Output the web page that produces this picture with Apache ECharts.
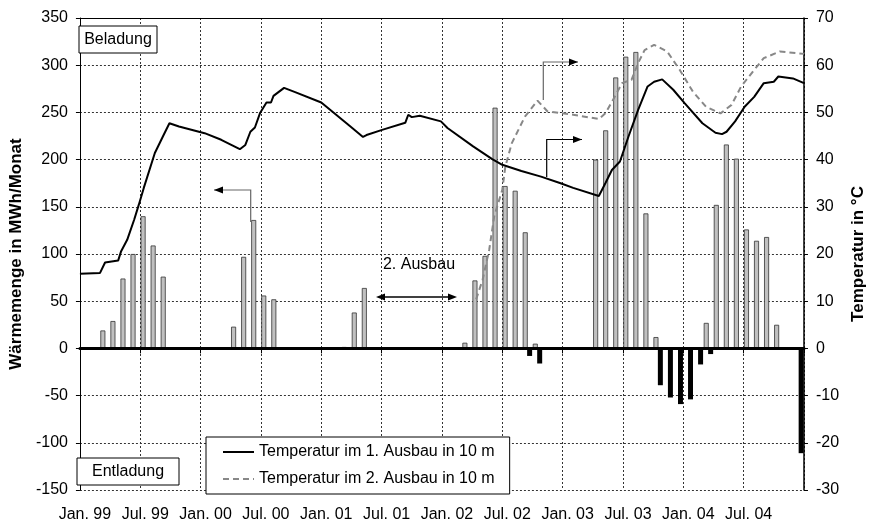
<!DOCTYPE html>
<html>
<head>
<meta charset="utf-8">
<script src="https://cdn.jsdelivr.net/npm/echarts@6/dist/echarts.min.js"></script>
<style>
  html, body { margin: 0; padding: 0; background: #fff; }
  #chart { width: 875px; height: 524px; }
</style>
</head>
<body>
<div id="chart"></div>
<script>
// Months Jan. 99 ... Dec. 04
const monthNames = ['Jan', 'Feb', 'Mär', 'Apr', 'Mai', 'Jun', 'Jul', 'Aug', 'Sep', 'Okt', 'Nov', 'Dez'];
const years = ['99', '00', '01', '02', '03', '04'];
const months = years.flatMap(y => monthNames.map(m => m + '. ' + y));

// Half-year tick labels
const tickLabels = ['Jan. 99', 'Jul. 99', 'Jan. 00', 'Jul. 00', 'Jan. 01', 'Jul. 01',
                    'Jan. 02', 'Jul. 02', 'Jan. 03', 'Jul. 03', 'Jan. 04', 'Jul. 04'];

// Monthly charged heat (MWh/Monat), one row per year
const beladung = [
  null, null, 19, 29, 74, 100, 140, 109, 76, null, null, null,
  null, null, null, 23, 97, 136, 56, 52, null, null, null, null,
  null, null, 1.5, 38, 64, null, null, null, null, null, null, null,
  null, null, 6, 72, 98, 255, 172, 167, 123, 5, null, null,
  null, null, null, 200, 231, 287, 309, 314, 143, 12, null, null,
  null, null, 27, 152, 216, 201, 126, 114, 118, 25, null, null
];

// Monthly discharged heat (MWh/Monat)
const entladung = [
  null, null, null, null, null, null, null, null, null, null, null, null,
  null, null, null, null, null, null, null, null, null, null, null, null,
  null, null, null, null, null, null, null, null, null, null, null, null,
  null, null, null, null, null, null, null, null, -8, -16, null, null,
  null, null, null, null, null, null, null, null, null, -39, -52, -59,
  -54, -17, -6, null, null, null, null, null, null, null, null, -111
];

// Temperature, 1st stage, 10 m depth (time in months since Jan. 99)
const temp1Month = [0, 2.0, 2.5, 3.8, 4.1, 4.7, 5.4, 5.85, 6.35, 7.45,
  8.25, 8.9, 9.85, 12.4, 14.05, 15.9, 16.45, 16.95, 17.4, 17.9,
  18.55, 19.0, 19.25, 20.3, 21.4, 24.0, 26.9, 28.15, 28.5, 30.05,
  32.35, 32.65, 33.0, 33.8, 35.9, 36.55, 39.1, 41.0, 42.0, 43.9,
  45.85, 47.8, 49.05, 51.6, 52.25, 52.9, 53.7, 54.55, 55.5, 56.45,
  57.1, 57.9, 59.0, 60.15, 61.9, 63.2, 63.85, 64.3, 65.15, 66.1,
  67.05, 68.0, 69.0, 69.45, 70.9, 72];
const temp1Value = [15.8, 16.0, 18.2, 18.6, 20.6, 23.0, 27.3, 30.4, 34.0, 41.4,
  44.9, 47.7, 47.0, 45.6, 44.2, 42.2, 43.1, 45.9, 46.8, 49.8,
  52.1, 52.1, 53.5, 55.2, 54.3, 52.1, 47.0, 44.8, 45.2, 46.3,
  47.8, 49.5, 49.0, 49.3, 48.1, 46.7, 42.8, 40.1, 38.9, 37.6,
  36.4, 35.0, 34.0, 32.3, 35.0, 37.8, 39.6, 44.9, 50.5, 55.5,
  56.5, 57.0, 54.8, 51.9, 47.7, 45.7, 45.4, 45.9, 48.1, 51.2,
  53.3, 56.2, 56.5, 57.6, 57.2, 56.2];

// Temperature, 2nd stage, 10 m depth
const temp2Month = [39.4, 40.05, 40.7, 41.2, 42.0, 42.3, 42.95, 44.25, 45.5, 46.5,
  49.05, 51.6, 52.25, 53.1, 53.9, 54.85, 55.5, 56.15, 57.1, 58.4,
  59.65, 60.95, 62.25, 63.7, 64.8, 65.75, 67.05, 68.0, 69.6, 71.55, 72];
const temp2Value = [10.4, 14.6, 20.9, 28.0, 33.6, 38.5, 43.5, 49.1, 52.5, 50.2,
  49.5, 48.6, 49.8, 53.0, 56.2, 56.9, 60.4, 63.2, 64.3, 62.9,
  59.0, 54.4, 51.2, 49.8, 51.6, 55.5, 59.0, 61.5, 62.9, 62.5, 62.4];

const FONT = '"Liberation Sans", Arial, sans-serif';
const gridDash = { color: '#333', type: [2, 2], width: 1 };

const zip = (xs, ys) => xs.map((x, i) => [x, ys[i]]);

// Arrow helpers for the annotations
function elbowArrow(points, color, headColor, dir) {
  const tip = points[points.length - 1];
  const s = dir === 'left' ? 1 : -1;
  return [
    { type: 'polyline', shape: { points: points }, style: { stroke: color, lineWidth: 1.2, fill: null }, z: 20 },
    { type: 'polygon', shape: { points: [tip, [tip[0] + s * 9, tip[1] - 3.5], [tip[0] + s * 9, tip[1] + 3.5]] },
      style: { fill: headColor }, z: 20 }
  ];
}

function labelBox(x, y, w, h, text) {
  return [
    { type: 'rect', shape: { x: x, y: y, width: w, height: h }, style: { fill: '#fff', stroke: '#000', lineWidth: 1 }, z: 20 },
    { type: 'text', x: x + w / 2, y: y + h / 2, style: { text: text, font: '16px ' + FONT, fill: '#000', align: 'center', verticalAlign: 'middle' }, z: 21 }
  ];
}

const chart = echarts.init(document.getElementById('chart'), null, { renderer: 'canvas' });

chart.setOption({
  animation: false,
  backgroundColor: '#fff',
  textStyle: { fontFamily: FONT },
  grid: { left: 71, right: 57, top: 18, bottom: 34, containLabel: false },
  legend: {
    data: ['Temperatur im 1. Ausbau in 10 m', 'Temperatur im 2. Ausbau in 10 m'],
    orient: 'vertical',
    left: 206, top: 437,
    itemWidth: 31, itemHeight: 14, itemGap: 11,
    padding: [7, 15, 7, 16],
    borderColor: '#000', borderWidth: 1, backgroundColor: '#fff',
    itemStyle: { opacity: 0 },
    textStyle: { fontSize: 16, color: '#000', fontFamily: FONT },
    z: 15
  },
  xAxis: [
    {
      type: 'category', data: months, boundaryGap: true, position: 'bottom',
      axisLine: { onZero: true, lineStyle: { color: '#000', width: 3 } },
      axisTick: { show: true, interval: 5, length: 5, lineStyle: { color: '#000', width: 1 } },
      axisLabel: { show: false },
      splitLine: { show: false },
      z: 10
    },
    {
      type: 'value', min: 0, max: 72, interval: 6, position: 'bottom',
      axisLine: { show: false, onZero: false },
      axisTick: { show: false },
      axisLabel: {
        fontSize: 16, color: '#000', margin: 17, fontFamily: FONT,
        padding: [0, 0, 0, 10],
        formatter: v => tickLabels[v / 6] || ''
      },
      splitLine: { show: true, lineStyle: gridDash }
    },
    {
      // solid frame line along the top of the plot area
      type: 'value', min: 0, max: 72, position: 'top',
      axisLine: { show: true, onZero: false, lineStyle: { color: '#000', width: 1 } },
      axisTick: { show: false }, axisLabel: { show: false }, splitLine: { show: false }
    }
  ],
  yAxis: [
    {
      type: 'value', min: -150, max: 350, interval: 50, position: 'left',
      name: 'Wärmemenge in MWh/Monat', nameLocation: 'middle', nameGap: 45,
      nameTextStyle: { fontWeight: 'bold', fontSize: 17, color: '#000', fontFamily: FONT },
      axisLine: { show: true, onZero: false, lineStyle: { color: '#000', width: 1 } },
      axisTick: { show: true, length: 4, lineStyle: { color: '#000' } },
      axisLabel: { fontSize: 16, color: '#000', margin: 12, fontFamily: FONT },
      splitLine: { show: true, lineStyle: gridDash }
    },
    {
      type: 'value', min: -30, max: 70, interval: 10, position: 'right',
      name: 'Temperatur in °C', nameLocation: 'middle', nameGap: 33,
      nameTextStyle: { fontWeight: 'bold', fontSize: 17, color: '#000', fontFamily: FONT },
      axisLine: { show: true, onZero: false, lineStyle: { color: '#000', width: 1.5 } },
      axisTick: { show: true, length: 4, lineStyle: { color: '#000' } },
      axisLabel: { fontSize: 16, color: '#000', margin: 12, fontFamily: FONT },
      splitLine: { show: false }
    }
  ],
  series: [
    {
      name: 'Beladung', type: 'bar', xAxisIndex: 0, yAxisIndex: 0,
      data: beladung, barWidth: 5, barGap: '-12%',
      itemStyle: { color: '#c0c0c0', borderColor: '#333', borderWidth: 0.8 },
      z: 3
    },
    {
      name: 'Entladung', type: 'bar', xAxisIndex: 0, yAxisIndex: 0,
      data: entladung, barWidth: 5,
      itemStyle: { color: '#000' },
      z: 3
    },
    {
      name: 'Temperatur im 1. Ausbau in 10 m', type: 'line', xAxisIndex: 1, yAxisIndex: 1,
      data: zip(temp1Month, temp1Value), symbol: 'none', showSymbol: false,
      lineStyle: { color: '#000', width: 2 }, itemStyle: { color: '#000' },
      z: 6
    },
    {
      name: 'Temperatur im 2. Ausbau in 10 m', type: 'line', xAxisIndex: 1, yAxisIndex: 1,
      data: zip(temp2Month, temp2Value), symbol: 'none', showSymbol: false,
      lineStyle: { color: '#888', width: 2, type: [6, 4] }, itemStyle: { color: '#888' },
      z: 5
    }
  ],
  graphic: [
    ...labelBox(79, 26, 78, 27, 'Beladung'),
    ...labelBox(77, 458, 102, 27, 'Entladung'),
    { type: 'text', x: 419, y: 265, style: { text: '2. Ausbau', font: '16px ' + FONT, fill: '#000', align: 'center', verticalAlign: 'middle' }, z: 20 },
    // double arrow below "2. Ausbau"
    { type: 'line', shape: { x1: 384, y1: 297, x2: 449, y2: 297 }, style: { stroke: '#000', lineWidth: 1.5 }, z: 20 },
    { type: 'polygon', shape: { points: [[376, 297], [385, 293.5], [385, 300.5]] }, style: { fill: '#000' }, z: 20 },
    { type: 'polygon', shape: { points: [[457, 297], [448, 293.5], [448, 300.5]] }, style: { fill: '#000' }, z: 20 },
    // bars refer to the left axis
    ...elbowArrow([[250.7, 222], [250.7, 190], [214, 190]], '#666', '#000', 'left'),
    // temperature curves refer to the right axis
    ...elbowArrow([[543.3, 100], [543.3, 62], [578, 62]], '#666', '#000', 'right'),
    ...elbowArrow([[546.7, 177], [546.7, 139.5], [582, 139.5]], '#000', '#000', 'right')
  ]
});
</script>
</body>
</html>
